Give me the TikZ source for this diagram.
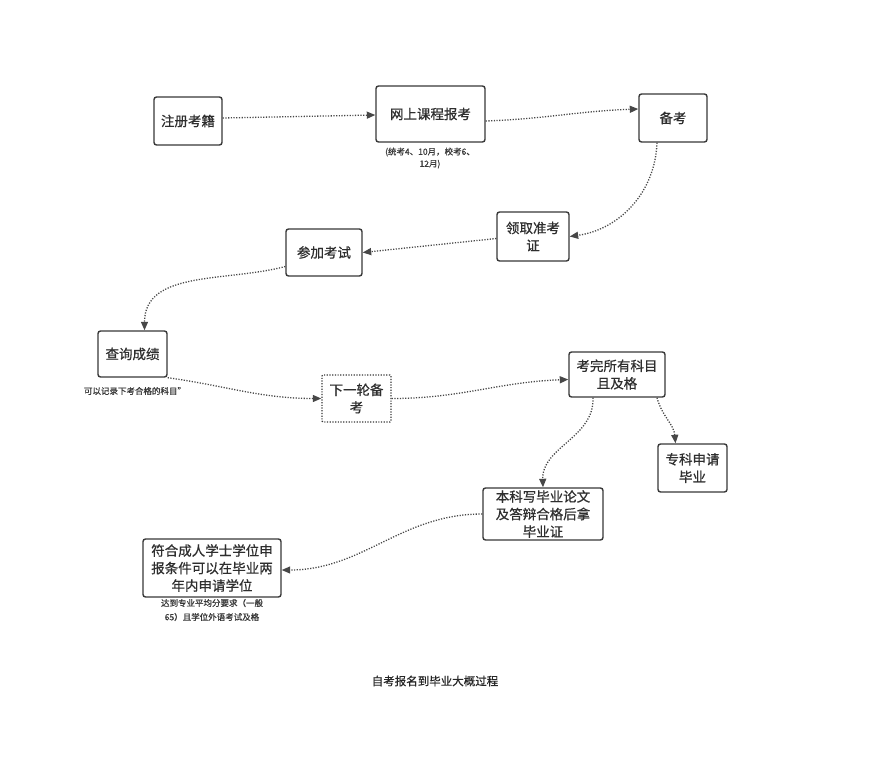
\documentclass[tikz,border=0pt]{standalone}
\usepackage{fontspec}
\setmainfont{Noto Sans CJK SC}
\newfontfamily\heavycjk[FakeBold=0.7]{Noto Sans CJK SC}
\usetikzlibrary{arrows.meta}

\begin{document}
\begin{tikzpicture}[x=1pt, y=1pt,
    box/.style={draw=black!78, line width=1.4pt, rounded corners=2.5pt, fill=white,
      align=center, inner sep=0pt, text=black!82,
      font=\heavycjk\fontsize{13.5}{17.5}\selectfont},
    dotbox/.style={box, dash pattern=on 1.2pt off 1.5pt, rounded corners=1pt},
    note/.style={align=center, inner sep=0pt, text=black!78,
      font=\heavycjk\fontsize{8.5}{12}\selectfont},
    flow/.style={draw=black!72, line width=1.3pt, dash pattern=on 1.2pt off 1.5pt,
      -{Triangle[length=8.5pt, width=7pt]}}]
  \useasboundingbox (0, 0) rectangle (892, -757);

  % top row
  \node[box, minimum width=68pt, minimum height=48pt] (reg) at (188, -121) {注册考籍};
  \node[box, minimum width=109pt, minimum height=56pt] (web) at (430.5, -114) {网上课程报考};
  \node[note] (webnote) at (430, -158) {(统考4、10月，校考6、\\12月)};
  \node[box, minimum width=68pt, minimum height=48pt] (prep) at (673, -118) {备考};

  % exam round
  \node[box, minimum width=72pt, minimum height=49pt] (ticket) at (533, -236.5) {领取准考\\证};
  \node[box, minimum width=76pt, minimum height=47pt] (exam) at (324, -252.5) {参加考试};
  \node[box, minimum width=69pt, minimum height=46pt] (score) at (132.5, -354) {查询成绩};
  \node[note] (scorenote) at (135, -391) {可以记录下考合格的科目”};
  \node[dotbox, minimum width=69pt, minimum height=47pt] (next) at (356.5, -398.5) {下一轮备\\考};
  \node[box, minimum width=96pt, minimum height=45pt] (allpass) at (617, -374.5) {考完所有科目\\且及格};

  % graduation
  \node[box, minimum width=69pt, minimum height=48pt] (zhuan) at (692.5, -468) {专科申请\\毕业};
  \node[box, minimum width=120pt, minimum height=52pt] (ben) at (543, -514) {本科写毕业论文\\及答辩合格后拿\\毕业证};
  \node[box, minimum width=138pt, minimum height=58pt] (degree) at (212, -568) {符合成人学士学位申\\报条件可以在毕业两\\年内申请学位};
  \node[note, font=\heavycjk\fontsize{8.5}{14}\selectfont] (degreenote) at (212, -610) {达到专业平均分要求（一般\\65）且学位外语考试及格};

  \node[note, text=black!85, font=\heavycjk\fontsize{11.5}{14}\selectfont] (title) at (435, -681) {自考报名到毕业大概过程};

  % connectors
  \draw[flow] ([yshift=3pt]reg.east) -- ([yshift=-1pt]web.west);
  \draw[flow] ([yshift=-7pt]web.east) to[out=2, in=182] ([yshift=9pt]prep.west);
  \draw[flow] ([xshift=-16pt]prep.south) to[out=-92, in=8] (ticket.east);
  \draw[flow] ([yshift=-2pt]ticket.west) -- (exam.east);
  \draw[flow] ([yshift=-14pt]exam.west) to[out=195, in=90] ([xshift=12pt]score.north);
  \draw[flow] (score.south east) to[out=-8, in=180] (next.west);
  \draw[flow] (next.east) to[out=0, in=182] ([yshift=-5pt]allpass.west);
  \draw[flow] ([xshift=-24pt]allpass.south) to[out=-88, in=92] (ben.north);
  \draw[flow] ([xshift=40pt]allpass.south) to[out=-75, in=95] ([xshift=-17pt]zhuan.north);
  \draw[flow] (ben.west) to[out=180, in=0] ([yshift=-2pt]degree.east);
\end{tikzpicture}
\end{document}
